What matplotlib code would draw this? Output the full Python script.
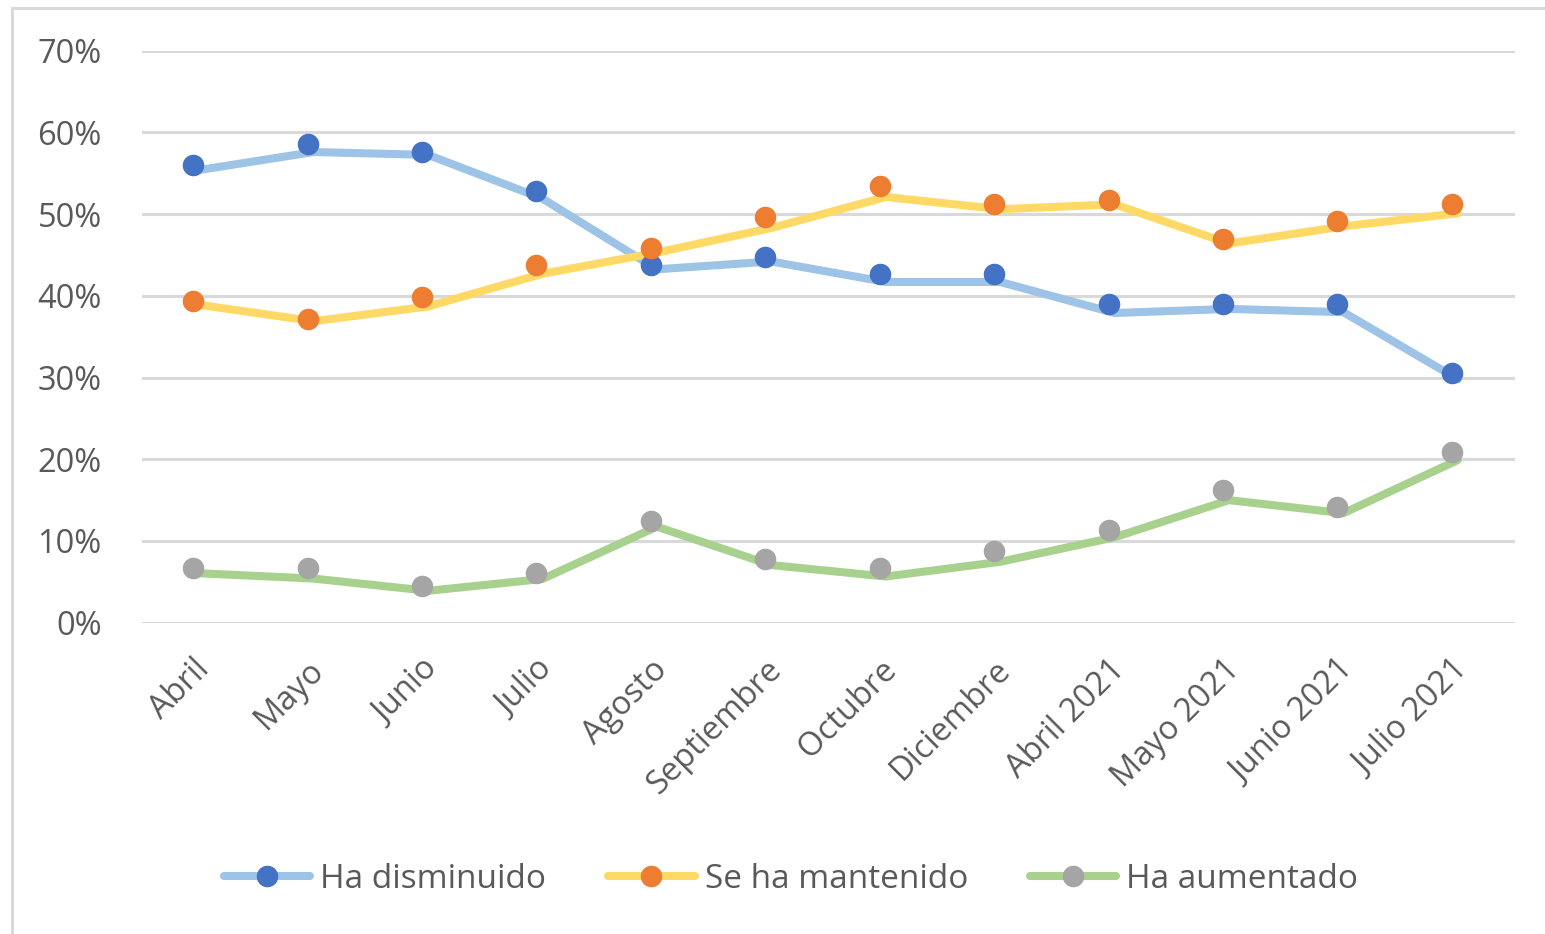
import matplotlib
matplotlib.use('Agg')
import numpy as np
import matplotlib.pyplot as plt
import matplotlib.transforms as mtransforms
from matplotlib.lines import Line2D
from matplotlib.patches import Rectangle

months = ['Abril', 'Mayo', 'Junio', 'Julio', 'Agosto', 'Septiembre', 'Octubre',
          'Diciembre', 'Abril 2021', 'Mayo 2021', 'Junio 2021', 'Julio 2021']

# values of the dots (percent)
dis_pts = [56.0, 58.6, 57.6, 52.8, 43.8, 44.8, 42.7, 42.7, 39.0, 39.0, 39.0, 30.5]
man_pts = [39.4, 37.2, 39.9, 43.8, 45.9, 49.6, 53.4, 51.2, 51.7, 47.0, 49.1, 51.2]
aum_pts = [6.65, 6.65, 4.5, 6.1, 12.5, 7.75, 6.65, 8.8, 11.4, 16.2, 14.1, 20.9]

# values of the lines (percent), slightly off the dots in the original
dis_line = [55.4, 57.6, 57.25, 51.9, 43.25, 44.2, 41.7, 41.7, 37.9, 38.4, 38.0, 29.8]
man_line = [38.9, 36.9, 38.7, 42.7, 45.3, 48.3, 52.1, 50.6, 51.2, 46.4, 48.5, 50.1]
aum_line = [6.05, 5.4, 3.9, 5.35, 11.75, 7.05, 5.65, 7.45, 10.45, 15.0, 13.4, 19.9]

series = [
    ('Ha disminuido', dis_line, dis_pts, '#9DC3E6', '#4472C4'),
    ('Se ha mantenido', man_line, man_pts, '#FFD966', '#ED7D31'),
    ('Ha aumentado', aum_line, aum_pts, '#A9D18E', '#A5A5A5'),
]

plt.rcParams['font.family'] = ['Open Sans', 'DejaVu Sans']
txt = '#595959'

fig = plt.figure(figsize=(15.45, 9.34), dpi=100)
ax = fig.add_axes([142 / 1545, 1 - 622.7 / 934, (1515 - 142) / 1545, (622.7 - 50.7) / 934])

x = np.arange(len(months))
dots = mtransforms.offset_copy(ax.transData, fig=fig, x=-6, y=0, units='dots')

handles = []
for name, line_vals, pt_vals, lc, mc in series:
    ax.plot(x, np.array(line_vals) / 100, color=lc, lw=5.8, solid_capstyle='round',
            solid_joinstyle='miter', zorder=3)
    ax.plot(x, np.array(pt_vals) / 100, ls='none', marker='o', ms=14.5, color=mc,
            transform=dots, zorder=4)
    handles.append(Line2D([], [], color=lc, lw=5.8, solid_capstyle='round', marker='o',
                          ms=14.5, mfc=mc, mec=mc, label=name))

ax.set_xlim(-0.5, len(months) - 0.5)
ax.set_ylim(0, 0.7)
ax.set_yticks(np.arange(0, 0.71, 0.1))
ax.set_yticklabels(['%d%%' % v for v in range(0, 71, 10)])
ax.set_xticks(x)
ax.set_xticklabels(months, rotation=45, ha='right', va='top', rotation_mode='anchor')
ax.tick_params(axis='both', length=0, labelsize=23.5, colors=txt)
ax.tick_params(axis='y', pad=29)
ax.tick_params(axis='x', pad=22)
shift = mtransforms.ScaledTranslation(-6 / 100, 0, fig.dpi_scale_trans)
for lab in ax.get_xticklabels():
    lab.set_transform(lab.get_transform() + shift)
ax.grid(axis='y', color='#D9D9D9', lw=2.2)
ax.set_axisbelow(True)
for d in ['left', 'top', 'bottom', 'right']:
    ax.spines[d].set_visible(False)

leg = fig.legend(handles=handles, loc='center', bbox_to_anchor=(791 / 1545, 1 - 879 / 934),
                 ncol=3, frameon=False, fontsize=24, handlelength=2.6,
                 handletextpad=0.3, columnspacing=1.85)
for t in leg.get_texts():
    t.set_color(txt)

fig.patches.append(Rectangle((11.5 / 1545, -0.1), 1.2, 1 - 7.5 / 934 + 0.1,
                             transform=fig.transFigure, fill=False,
                             ec='#D9D9D9', lw=2.2, zorder=0))

fig.savefig('out.png', dpi=100)
